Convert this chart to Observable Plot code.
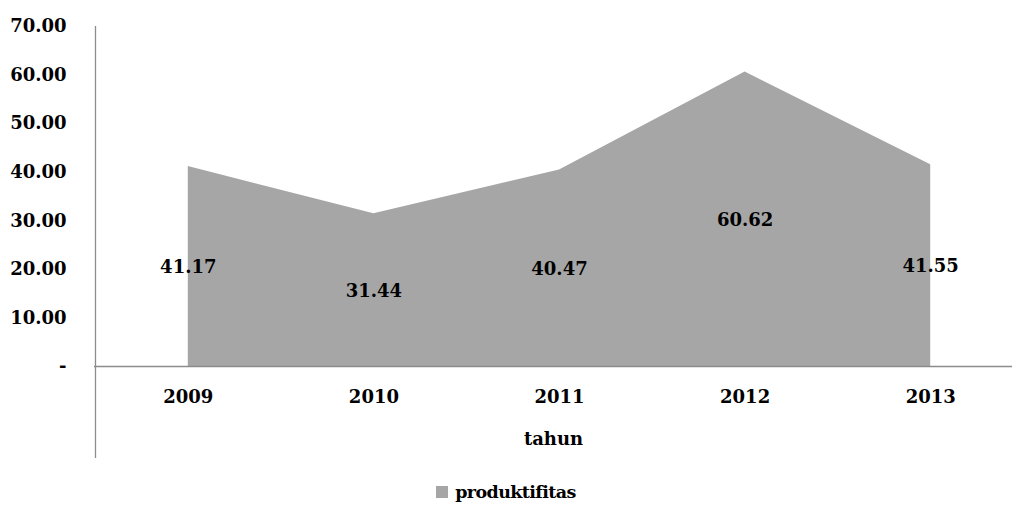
<!DOCTYPE html>
<html>
<head>
<meta charset="utf-8">
<script src="https://cdn.jsdelivr.net/npm/d3@7"></script>
<script src="https://cdn.jsdelivr.net/npm/@observablehq/plot@0.6"></script>
<style>
  body { margin: 0; background: #fff; }
  #chart svg { display: block; }
  .legend { width: 1012px; text-align: center; line-height: 44px; height: 35px;
    font-family: "DejaVu Serif", serif; font-weight: bold; font-size: 17.5px; letter-spacing: -0.6px; color: #000; }
  .legend .sw { display: inline-block; width: 12px; height: 12px; background: #a6a6a6; margin-right: 7px; vertical-align: 0px; }
</style>
</head>
<body>
<div id="chart"></div>
<script>
const years = [2009, 2010, 2011, 2012, 2013];
const values = [41.17, 31.44, 40.47, 60.62, 41.55];
const yTicks = [0, 10, 20, 30, 40, 50, 60, 70];
const seriesName = "produktifitas";
const xTitle = "tahun";

const data = years.map((year, i) => ({year, value: values[i]}));
const FONT = '"DejaVu Serif", serif';
const FS = 18;

const plot = Plot.plot({
  width: 1012,
  height: 470,
  marginLeft: 94,
  marginRight: 0,
  marginTop: 26,
  marginBottom: 104,
  style: {fontFamily: FONT, fontWeight: "bold", fontSize: FS + "px", color: "#000", background: "#fff"},
  x: {type: "linear", domain: [years[0] - 0.5, years[years.length - 1] + 0.5], range: [95, 1023]},
  y: {domain: [0, 70], range: [366, 26]},
  marks: [
    Plot.areaY(data, {x: "year", y: "value", fill: "#a6a6a6", curve: "linear"}),
    Plot.ruleY([0], {stroke: "#8c8c8c", strokeWidth: 1.3}),
    Plot.ruleX([years[0] - 0.5], {stroke: "#8c8c8c", strokeWidth: 1.3, insetBottom: -92}),
    Plot.axisY({ticks: yTicks, tickSize: 0, tickPadding: 28, tickFormat: d => d === 0 ? "-" : d.toFixed(2), label: null, fontSize: FS, fontFamily: FONT}),
    Plot.axisX({ticks: years, tickSize: 0, tickPadding: 24, tickFormat: d => String(d), label: null, fontSize: FS, fontFamily: FONT}),
    Plot.text([xTitle], {frameAnchor: "bottom", dy: 78, fontSize: FS, fill: "#000", fontFamily: FONT}),
    Plot.text(data, {x: "year", y: d => d.value / 2, text: d => d.value.toFixed(2), fontSize: FS, fill: "#000", fontFamily: FONT, dy: 1})
  ]
});
document.getElementById("chart").appendChild(plot);
const leg = document.createElement("div");
leg.className = "legend";
leg.innerHTML = '<span class="sw"></span>' + seriesName;
document.body.appendChild(leg);
</script>
</body>
</html>
